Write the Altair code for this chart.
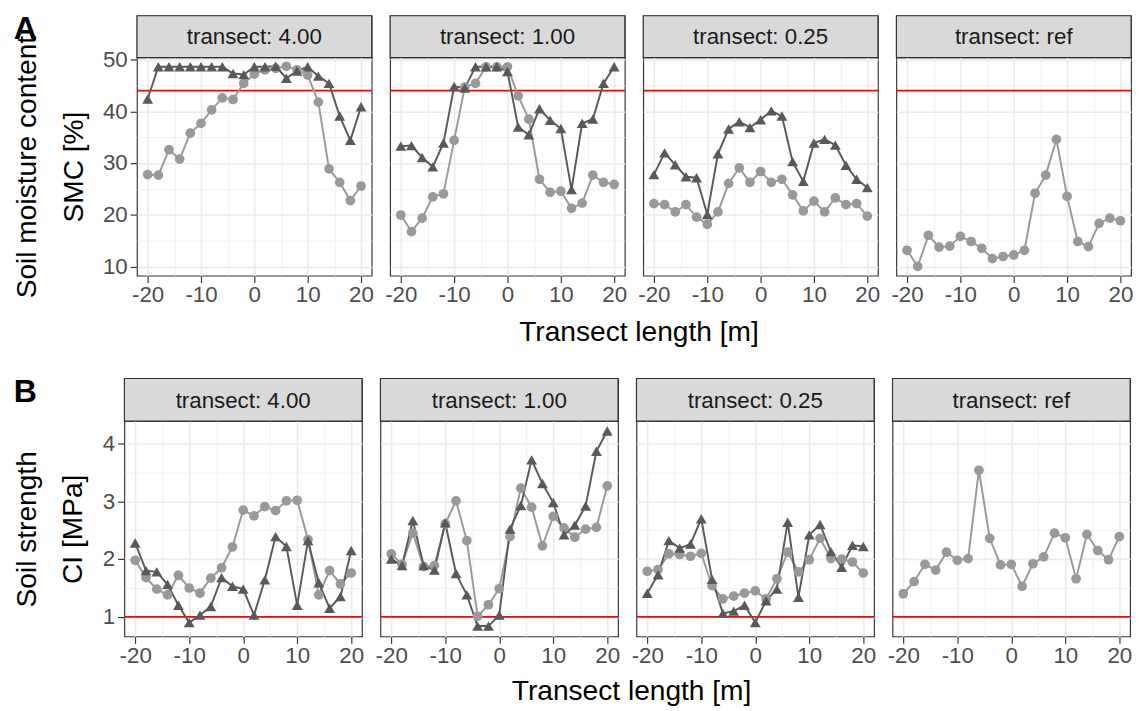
import altair as alt
import pandas as pd

FONT = "Liberation Sans"

# ---------------- data ----------------
x_m = [-20, -18, -16, -14, -12, -10, -8, -6, -4, -2, 0, 2, 4, 6, 8, 10, 12, 14, 16, 18, 20]
transects = ["4.00", "1.00", "0.25", "ref"]

# Soil moisture content [%]  (tri = dark triangles, cir = light circles)
smc_tri_400 = [42.4, 48.6, 48.6, 48.6, 48.6, 48.6, 48.6, 48.6, 47.3, 47.1, 48.6, 48.6, 48.7, 46.4, 47.8, 48.6, 46.8, 45.4, 39.1, 34.4, 40.9]
smc_cir_400 = [27.8, 27.7, 32.6, 30.8, 35.8, 37.7, 40.3, 42.6, 42.3, 45.4, 47.2, 48.0, 48.3, 48.7, 48.0, 47.0, 41.8, 28.9, 26.3, 22.8, 25.6]
smc_tri_100 = [33.3, 33.4, 31.1, 29.3, 33.9, 44.8, 44.5, 48.6, 48.6, 48.6, 47.7, 37.0, 35.5, 40.5, 38.3, 36.7, 24.9, 37.7, 38.5, 45.4, 48.6]
smc_cir_100 = [20.0, 16.8, 19.4, 23.5, 24.1, 34.4, 44.7, 45.4, 48.6, 48.6, 48.6, 43.0, 38.5, 26.9, 24.4, 24.6, 21.3, 22.3, 27.7, 26.3, 25.9]
smc_tri_025 = [27.8, 32.0, 29.7, 27.4, 27.2, 20.1, 31.8, 36.6, 38.0, 36.9, 38.4, 40.1, 39.1, 30.3, 26.5, 33.9, 34.6, 33.5, 29.6, 26.9, 25.3]
smc_cir_025 = [22.2, 22.0, 20.6, 22.0, 19.6, 18.2, 20.6, 26.1, 29.1, 26.3, 28.4, 26.3, 26.9, 23.9, 20.8, 22.7, 20.6, 23.3, 22.0, 22.2, 19.8]
smc_cir_ref = [13.2, 10.1, 16.1, 13.8, 14.0, 15.9, 14.9, 13.6, 11.6, 12.0, 12.3, 13.2, 24.2, 27.7, 34.6, 23.6, 14.9, 13.9, 18.4, 19.4, 18.9]
smc_threshold = [44]

# Soil strength, cone index [MPa]
ci_tri_400 = [2.28, 1.80, 1.78, 1.56, 1.20, 0.90, 1.03, 1.18, 1.68, 1.53, 1.48, 1.03, 1.64, 2.39, 2.22, 1.20, 2.32, 1.59, 1.15, 1.35, 2.15]
ci_cir_400 = [1.98, 1.68, 1.48, 1.38, 1.72, 1.50, 1.41, 1.67, 1.85, 2.21, 2.85, 2.75, 2.91, 2.84, 3.01, 3.02, 2.34, 1.38, 1.80, 1.57, 1.76]
ci_tri_100 = [2.00, 1.89, 2.67, 1.89, 1.81, 2.63, 1.75, 1.38, 0.84, 0.84, 1.03, 2.52, 2.93, 3.72, 3.31, 2.98, 2.42, 2.59, 2.92, 3.87, 4.22]
ci_cir_100 = [2.09, 1.91, 2.45, 1.87, 1.89, 2.61, 3.01, 2.32, 1.01, 1.21, 1.49, 2.39, 3.23, 2.90, 2.23, 2.74, 2.54, 2.38, 2.52, 2.55, 3.27]
ci_tri_025 = [1.41, 1.73, 2.32, 2.19, 2.26, 2.70, 1.65, 1.06, 1.10, 1.20, 0.90, 1.28, 1.48, 2.64, 1.34, 2.42, 2.60, 2.13, 1.86, 2.24, 2.22]
ci_cir_025 = [1.79, 1.82, 2.09, 2.08, 2.05, 2.10, 1.54, 1.31, 1.36, 1.41, 1.45, 1.31, 1.66, 2.12, 1.78, 1.99, 2.36, 2.01, 2.00, 1.95, 1.76]
ci_cir_ref = [1.40, 1.61, 1.91, 1.81, 2.12, 1.98, 2.01, 3.54, 2.36, 1.90, 1.91, 1.53, 1.92, 2.04, 2.45, 2.37, 1.66, 2.43, 2.15, 1.99, 2.39]
ci_threshold = [1]

# axis break values (major every 10 / 1, minor in between)
x_breaks = [-20, -15, -10, -5, 0, 5, 10, 15, 20]
smc_breaks = [10, 15, 20, 25, 30, 35, 40, 45, 50]
ci_breaks = [1, 1.5, 2, 2.5, 3, 3.5, 4]

smc_series = {"4.00": (smc_tri_400, smc_cir_400), "1.00": (smc_tri_100, smc_cir_100),
              "0.25": (smc_tri_025, smc_cir_025), "ref": (None, smc_cir_ref)}
ci_series = {"4.00": (ci_tri_400, ci_cir_400), "1.00": (ci_tri_100, ci_cir_100),
             "0.25": (ci_tri_025, ci_cir_025), "ref": (None, ci_cir_ref)}

DARK = "#595959"
LIGHT = "#999999"


def long_df(tri, cir):
    recs = []
    for xv, v in zip(x_m, cir):
        recs.append({"x": xv, "v": v, "s": "cir"})
    if tri is not None:
        for xv, v in zip(x_m, tri):
            recs.append({"x": xv, "v": v, "s": "tri"})
    return pd.DataFrame(recs)


def cond(test, a, b):
    return {"condition": {"test": test, "value": a}, "value": b}


def make_panel(tr, series, threshold, width, strip_h, plot_h, ydomain, ybreaks, ymod,
               first, ytitle, letter, letter_dx):
    # ---- strip ----
    sdf = pd.DataFrame({"label": [f"transect: {tr}"]})
    strip_bg = alt.Chart(sdf).mark_rect(fill="#D9D9D9", stroke="#333333", strokeWidth=1.2).encode(
        x=alt.value(0), x2=alt.value(width), y=alt.value(0), y2=alt.value(strip_h))
    strip_txt = alt.Chart(sdf).mark_text(font=FONT, fontSize=23, color="#1A1A1A",
                                         align="center", baseline="middle").encode(
        x=alt.value(width / 2), y=alt.value(strip_h / 2 + 1), text="label:N")
    slayers = [strip_bg, strip_txt]
    if letter:
        ldf = pd.DataFrame({"t": [letter]})
        slayers.append(alt.Chart(ldf).mark_text(font=FONT, fontSize=33, fontWeight="bold",
                                                color="black", align="left", baseline="top").encode(
            x=alt.value(letter_dx), y=alt.value(-2), text="t:N"))
    strip = alt.layer(*slayers).properties(width=width, height=strip_h)

    # ---- plot ----
    tri, cir = series
    df = long_df(tri, cir)
    xscale = alt.Scale(domain=[-22, 22], nice=False, zero=False)
    yscale = alt.Scale(domain=ydomain, nice=False, zero=False)
    xaxis = alt.Axis(values=x_breaks, title=None, domain=False, grid=True,
                     labelExpr="datum.value % 10 === 0 ? '' + datum.value : ''",
                     gridWidth=cond("datum.value % 10 === 0", 1.6, 0.8),
                     tickOpacity=cond("datum.value % 10 === 0", 1, 0),
                     tickSize=7, labelPadding=2)
    ytest = f"datum.value % {ymod} === 0"
    if first:
        yaxis = alt.Axis(values=ybreaks, title=ytitle, domain=False, grid=True,
                         labelExpr=f"{ytest} ? '' + datum.value : ''",
                         gridWidth=cond(ytest, 1.6, 0.8),
                         tickOpacity=cond(ytest, 1, 0), tickSize=7, labelPadding=3,
                         titleFont=FONT, titleFontSize=29, titleFontWeight="normal",
                         titleColor="black", titleLineHeight=48, titlePadding=15)
    else:
        yaxis = alt.Axis(values=ybreaks, title=None, domain=False, grid=True, labels=False,
                         ticks=False, gridWidth=cond(ytest, 1.6, 0.8))

    color = alt.Color("s:N", scale=alt.Scale(domain=["tri", "cir"], range=[DARK, LIGHT]), legend=None)
    shape = alt.Shape("s:N", scale=alt.Scale(domain=["tri", "cir"], range=["triangle-up", "circle"]), legend=None)
    size = alt.Size("s:N", scale=alt.Scale(domain=["tri", "cir"], range=[125, 100]), legend=None)

    tdf = pd.DataFrame({"thr": threshold})
    rule = alt.Chart(tdf).mark_rule(color="#FF0000", strokeWidth=1.7).encode(
        y=alt.Y("thr:Q", scale=yscale, axis=yaxis))
    lines = alt.Chart(df).mark_line(strokeWidth=2).encode(
        x=alt.X("x:Q", scale=xscale, axis=xaxis),
        y=alt.Y("v:Q", scale=yscale, axis=yaxis),
        color=color, detail="s:N")
    pts = alt.Chart(df).mark_point(filled=True, opacity=1, strokeWidth=0).encode(
        x=alt.X("x:Q", scale=xscale, axis=xaxis),
        y=alt.Y("v:Q", scale=yscale, axis=yaxis),
        color=color, shape=shape, size=size)
    plot = alt.layer(rule, lines, pts).properties(width=width, height=plot_h)

    return alt.vconcat(strip, plot, spacing=0, bounds="flush")


def make_row(series_map, threshold, width, strip_h, plot_h, ydomain, ybreaks, ymod, ytitle,
             letter, letter_dx, title_dx, title_offset):
    cols = []
    for i, tr in enumerate(transects):
        cols.append(make_panel(tr, series_map[tr], threshold, width, strip_h, plot_h, ydomain,
                               ybreaks, ymod, i == 0, ytitle, letter if i == 0 else None, letter_dx))
    panels = alt.hconcat(*cols, spacing=9,
                         title=alt.TitleParams("Transect length [m]", orient="bottom", anchor="middle",
                                               font=FONT, fontSize=29, fontWeight="normal",
                                               color="black", offset=title_offset, dx=title_dx))
    # zero-width spacer so both rows share a common left origin
    spacer = alt.Chart(pd.DataFrame({"t": [""]})).mark_text().encode(
        x=alt.value(0), y=alt.value(0), text="t:N"
    ).properties(width=0, height=0, view=alt.ViewBackground(strokeOpacity=0))
    return alt.hconcat(spacer, panels, spacing=1)


rowA = make_row(smc_series, smc_threshold, 242, 43, 225, [8.3, 50.4], smc_breaks, 10,
                ["Soil moisture content", "SMC [%]"], "A", -127, 68, 12)
rowB = make_row(ci_series, ci_threshold, 245, 44, 222, [0.66, 4.39], ci_breaks, 1,
                ["Soil strength", "CI [MPa]"], "B", -114, 61, 10)

chart = alt.vconcat(rowA, rowB, spacing=26).properties(
    padding={"left": -17, "top": -9, "right": 0, "bottom": 0}
).configure(font=FONT).configure_view(
    stroke="#333333", strokeWidth=1.2
).configure_axis(
    labelFont=FONT, labelFontSize=23, labelColor="#4D4D4D", tickColor="#333333", tickWidth=1.2,
    gridColor="#EBEBEB"
)

chart.save("out.html", embed_options={"renderer": "svg", "actions": False})
